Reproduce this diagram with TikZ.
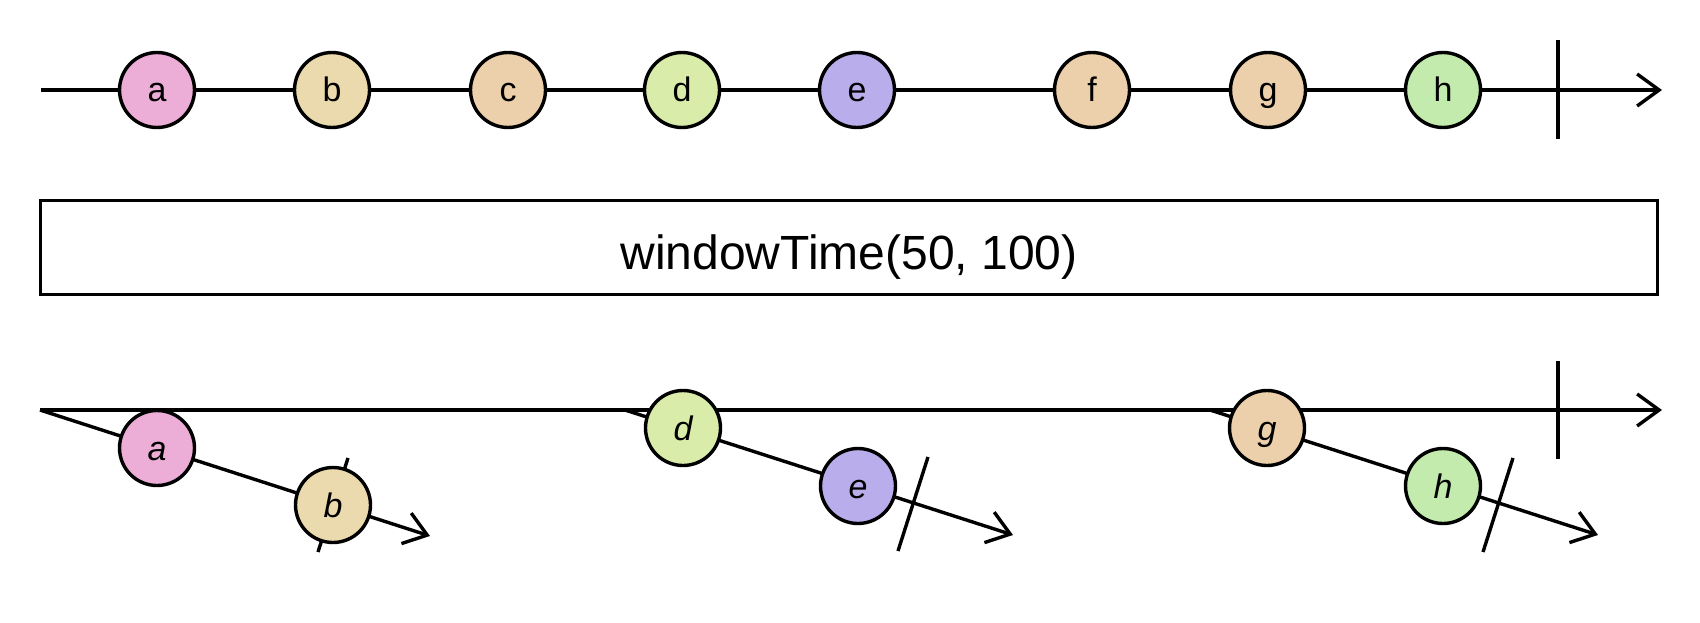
\documentclass[tikz,border=0pt]{standalone}
\usepackage{fontspec}
\setmainfont{Liberation Sans}
\usetikzlibrary{arrows.meta}
\definecolor{marbleA}{HTML}{ECADD6}
\definecolor{marbleB}{HTML}{EBDAAD}
\definecolor{marbleC}{HTML}{ECCFAB}
\definecolor{marbleD}{HTML}{D9ECAA}
\definecolor{marbleE}{HTML}{BAADEB}
\definecolor{marbleF}{HTML}{ECCFAB}
\definecolor{marbleG}{HTML}{ECCFAB}
\definecolor{marbleH}{HTML}{C2EBAD}
\tikzset{
  marble/.style={circle,draw,line width=3.4pt,minimum size=75pt,inner sep=0pt,
    text height=24pt,text depth=0pt,font=\fontsize{34}{40}\selectfont},
  inmarble/.style={marble,font=\fontsize{34}{40}\selectfont\itshape},
  opbox/.style={draw,line width=3.4pt,minimum width=1617pt,minimum height=94pt,
    inner sep=0pt,text height=43pt,text depth=0pt,font=\fontsize{48}{56}\selectfont},
  timeline/.style={line width=3.4pt,-{Straight Barb[length=22pt,width=32pt]}},
  endtick/.style={line width=3.4pt}
}
\begin{document}
\begin{tikzpicture}[x=1pt,y=-1pt]
\useasboundingbox (0,0) rectangle (1700,623);
% source stream
\coordinate (src0) at (41,90);
\coordinate (src1) at (1662,90);
\draw[timeline] (src0)--(src1);
\coordinate (srcT0) at (1558,40);
\coordinate (srcT1) at (1558,139);
\draw[endtick] (srcT0)--(srcT1);
\foreach \n/\x/\c in {a/157/marbleA,b/332/marbleB,c/508/marbleC,d/682/marbleD,
  e/857/marbleE,f/1092/marbleF,g/1268/marbleG,h/1443/marbleH}
\node[marble,fill=\c] (\n) at (\x,90) {\n};
% operator
\node[opbox] (op) at (849,247.5) {windowTime(50, 100)};
% result stream
\coordinate (res0) at (40,410);
\coordinate (res1) at (1662,410);
\draw[timeline] (res0)--(res1);
\coordinate (resT0) at (1558,361);
\coordinate (resT1) at (1558,459);
\draw[endtick] (resT0)--(resT1);
% windows
\coordinate (w1s) at (40,410);
\coordinate (w1e) at (430,536);
\coordinate (w2s) at (625,410);
\coordinate (w2e) at (1013,535);
\coordinate (w3s) at (1210,410);
\coordinate (w3e) at (1598,535);
\foreach \i in {1,2,3}
\draw[timeline] (w\i s)--(w\i e);
\coordinate (w1t0) at (348,458);
\coordinate (w1t1) at (318,552);
\coordinate (w2t0) at (928,457);
\coordinate (w2t1) at (898,551);
\coordinate (w3t0) at (1513,458);
\coordinate (w3t1) at (1483,552);
\foreach \i in {1,2,3}
\draw[endtick] (w\i t0)--(w\i t1);
\node[inmarble,fill=marbleA] (wa) at (157,448) {a};
\node[inmarble,fill=marbleB] (wb) at (333,505) {b};
\node[inmarble,fill=marbleD] (wd) at (683,428) {d};
\node[inmarble,fill=marbleE] (we) at (858,486) {e};
\node[inmarble,fill=marbleG] (wg) at (1267,428) {g};
\node[inmarble,fill=marbleH] (wh) at (1443,486) {h};
\end{tikzpicture}
\end{document}
